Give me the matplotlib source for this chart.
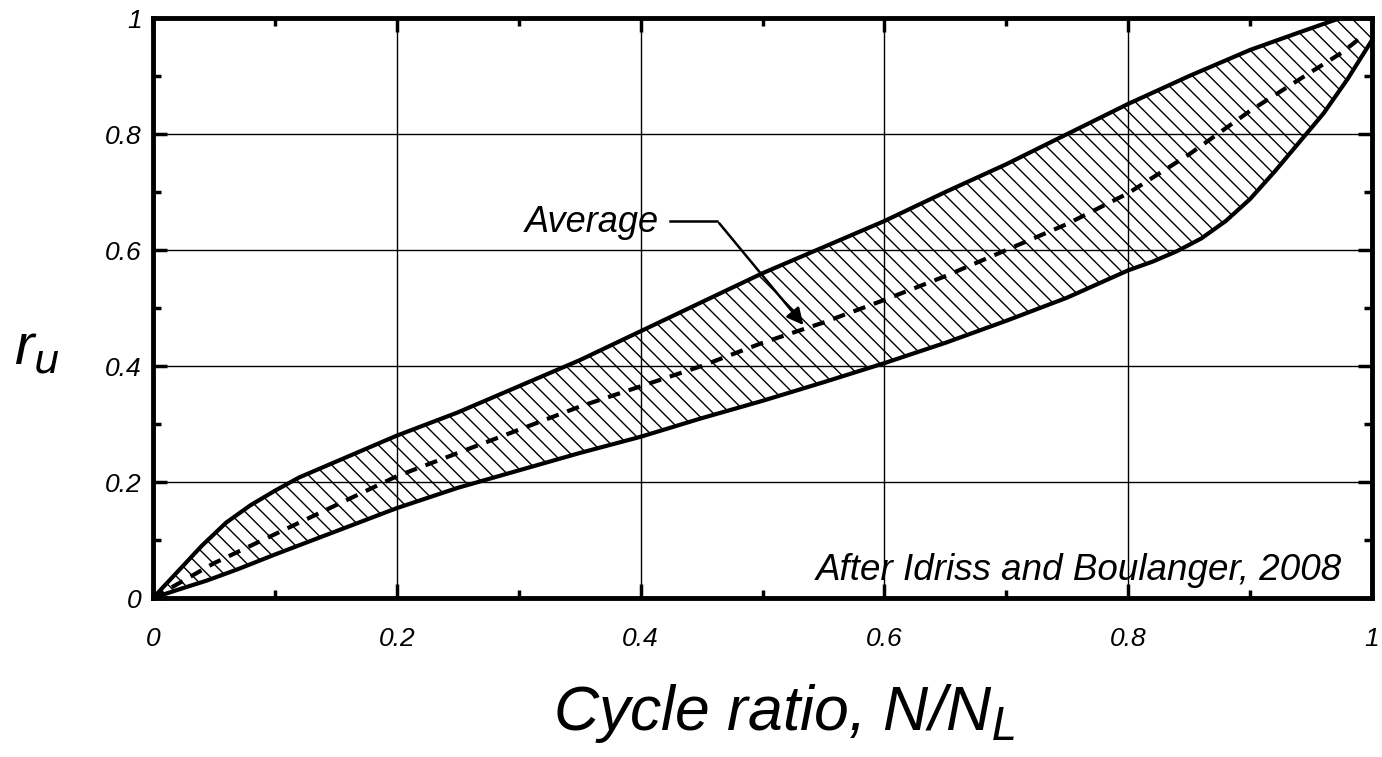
import numpy as np
import matplotlib.pyplot as plt

plt.rcParams['font.family'] = ['Liberation Sans', 'DejaVu Sans']
plt.rcParams['hatch.linewidth'] = 1.0

# 上边界
upper_x = [0, 0.02, 0.04, 0.06, 0.08, 0.1, 0.12, 0.15, 0.2, 0.25, 0.3, 0.35, 0.4, 0.45,
           0.5, 0.55, 0.6, 0.65, 0.7, 0.75, 0.8, 0.85, 0.9, 0.94, 0.974, 0.99, 1.0]
upper_y = [0, 0.045, 0.09, 0.13, 0.16, 0.185, 0.208, 0.235, 0.28, 0.32, 0.365, 0.41, 0.46, 0.51,
           0.56, 0.605, 0.65, 0.70, 0.748, 0.80, 0.852, 0.90, 0.945, 0.975, 1.0, 1.01, 1.02]
# 下边界
lower_x = [0, 0.02, 0.044, 0.07, 0.1, 0.15, 0.2, 0.25, 0.3, 0.35, 0.4, 0.45, 0.5, 0.55, 0.6,
           0.65, 0.7, 0.75, 0.8, 0.82, 0.84, 0.86, 0.88, 0.9, 0.92, 0.94, 0.96, 0.98, 1.0]
lower_y = [0, 0.014, 0.03, 0.05, 0.075, 0.115, 0.155, 0.19, 0.22, 0.25, 0.278, 0.31, 0.34, 0.372,
           0.405, 0.44, 0.478, 0.518, 0.565, 0.58, 0.598, 0.62, 0.65, 0.688, 0.735, 0.785, 0.835,
           0.895, 0.962]
# 平均曲线
avg_x = [0, 0.025, 0.05, 0.1, 0.15, 0.2, 0.25, 0.3, 0.35, 0.4, 0.45, 0.5, 0.55, 0.6, 0.65,
         0.7, 0.75, 0.8, 0.85, 0.9, 0.95, 0.975, 0.993]
avg_y = [0, 0.03, 0.06, 0.11, 0.16, 0.21, 0.25, 0.29, 0.33, 0.365, 0.40, 0.44, 0.475, 0.514,
         0.555, 0.60, 0.645, 0.698, 0.765, 0.84, 0.907, 0.94, 0.97]

ticks = [0, 0.2, 0.4, 0.6, 0.8, 1.0]
tick_labels = ['0', '0.2', '0.4', '0.6', '0.8', '1']
minor = [0.1, 0.3, 0.5, 0.7, 0.9]

fig, ax = plt.subplots(figsize=(13.82, 7.57), dpi=100)
fig.subplots_adjust(left=0.1107, right=0.9928, bottom=0.21, top=0.9762)

# 阴影区域
poly_x = upper_x + [1.0] + lower_x[::-1]
poly_y = upper_y + [1.0] + lower_y[::-1]
ax.fill(poly_x, poly_y, facecolor='none', edgecolor='black', hatch='\\\\', linewidth=0)

ax.plot(upper_x, upper_y, color='black', lw=3, solid_joinstyle='round')
ax.plot(lower_x, lower_y, color='black', lw=3, solid_joinstyle='round')
ax.plot(avg_x, avg_y, color='black', lw=3, dashes=(3, 2.2))

ax.set_xlim(0, 1)
ax.set_ylim(0, 1)
ax.set_xticks(ticks)
ax.set_yticks(ticks)
ax.set_xticks(minor, minor=True)
ax.set_yticks(minor, minor=True)
ax.set_xticklabels(tick_labels, style='italic', fontsize=19)
ax.set_yticklabels(tick_labels, style='italic', fontsize=19)
ax.grid(True, which='major', color='black', lw=1)
ax.tick_params(which='both', direction='in', top=True, right=True, width=2.5, color='black')
ax.tick_params(which='major', length=10)
ax.tick_params(axis='x', which='major', pad=21)
ax.tick_params(axis='y', which='major', pad=8)
ax.tick_params(which='minor', length=6)
for s in ax.spines.values():
    s.set_linewidth(3.5)

ax.set_xlabel(r'Cycle ratio, N/N$_L$', fontsize=45, style='italic')
ax.xaxis.set_label_coords(0.518, -0.145)
ax.set_ylabel(r'r$_u$', fontsize=42, style='italic', rotation=0, va='center')
ax.yaxis.set_label_coords(-0.095, 0.43)

ax.text(0.975, 0.018, 'After Idriss and Boulanger, 2008', fontsize=26.5, style='italic',
        ha='right', va='bottom', transform=ax.transAxes)

# 标注
ax.text(0.415, 0.648, 'Average', fontsize=26, style='italic', ha='right', va='center')
ax.plot([0.424, 0.463], [0.65, 0.65], color='black', lw=1.8)
ax.annotate('', xy=(0.535, 0.467), xytext=(0.463, 0.65),
            arrowprops=dict(arrowstyle='-|>', color='black', lw=1.8, mutation_scale=25))

fig.savefig('out.png', dpi=100)
